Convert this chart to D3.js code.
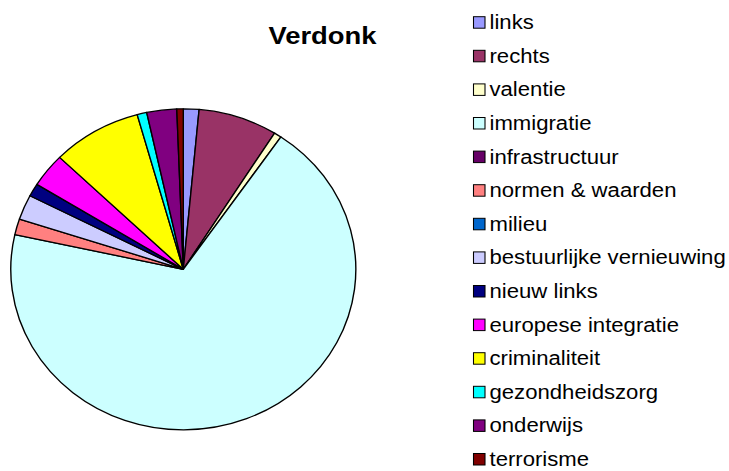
<!DOCTYPE html>
<html>
<head>
<meta charset="utf-8">
<script src="https://cdn.jsdelivr.net/npm/d3@7"></script>
<style>
  body { margin: 0; background: #fff; }
  text { font-family: "Liberation Sans", Arial, sans-serif; fill: #000; }
</style>
</head>
<body>
<div id="chart"></div>
<script>
// categories, shares (%) and Excel palette colours
var topics = ["links", "rechts", "valentie", "immigratie", "infrastructuur",
  "normen & waarden", "milieu", "bestuurlijke vernieuwing", "nieuw links",
  "europese integratie", "criminaliteit", "gezondheidszorg", "onderwijs", "terrorisme"];
var shares = [1.46, 7.4, 0.7, 68.8, 0, 1.6, 0, 2.5, 1.3, 3.4, 8.4, 0.9, 2.8, 0.6];
var colors = ["#9999FF", "#993366", "#FFFFCC", "#CCFFFF", "#660066",
  "#FF8080", "#0066CC", "#CCCCFF", "#000080", "#FF00FF",
  "#FFFF00", "#00FFFF", "#800080", "#800000"];

var width = 729, height = 471;
var sx = 1.075; // chart is stretched horizontally

var svg = d3.select("#chart").append("svg")
  .attr("width", width)
  .attr("height", height);

var g = svg.append("g").attr("transform", `scale(${sx},1)`);

var data = topics.map((t, i) => ({ topic: t, value: shares[i], color: colors[i] }));

// pie
var pie = d3.pie().sort(null).value(d => d.value);
var arc = d3.arc().innerRadius(0).outerRadius(160.5);

var pieGroup = g.append("g")
  .attr("transform", `translate(${183.3 / sx}, 269.3)`);

pieGroup.selectAll("path")
  .data(pie(data).filter(d => d.data.value > 0))
  .enter()
  .append("path")
  .attr("d", arc)
  .attr("fill", d => d.data.color)
  .attr("stroke", "#000")
  .attr("stroke-width", 1.3)
  .attr("stroke-linejoin", "round");

// title
g.append("text")
  .attr("x", 268.5 / sx)
  .attr("y", 44.3)
  .attr("font-size", 23.5)
  .attr("font-weight", "bold")
  .attr("textLength", 108 / sx)
  .attr("lengthAdjust", "spacingAndGlyphs")
  .text("Verdonk");

// legend
var legendY = d3.scaleLinear().domain([0, topics.length - 1]).range([22.5, 459.3]);

var legend = g.append("g");
var items = legend.selectAll("g")
  .data(data)
  .enter()
  .append("g")
  .attr("transform", (d, i) => `translate(0, ${legendY(i)})`);

items.append("rect")
  .attr("x", 473.5 / sx)
  .attr("y", -5.8)
  .attr("width", 11.5 / sx)
  .attr("height", 11.5)
  .attr("fill", d => d.color)
  .attr("stroke", "#000")
  .attr("stroke-width", 1);

items.append("text")
  .attr("x", 489.5 / sx)
  .attr("y", 6.6)
  .attr("font-size", 20.6)
  .text(d => d.topic);
</script>
</body>
</html>
